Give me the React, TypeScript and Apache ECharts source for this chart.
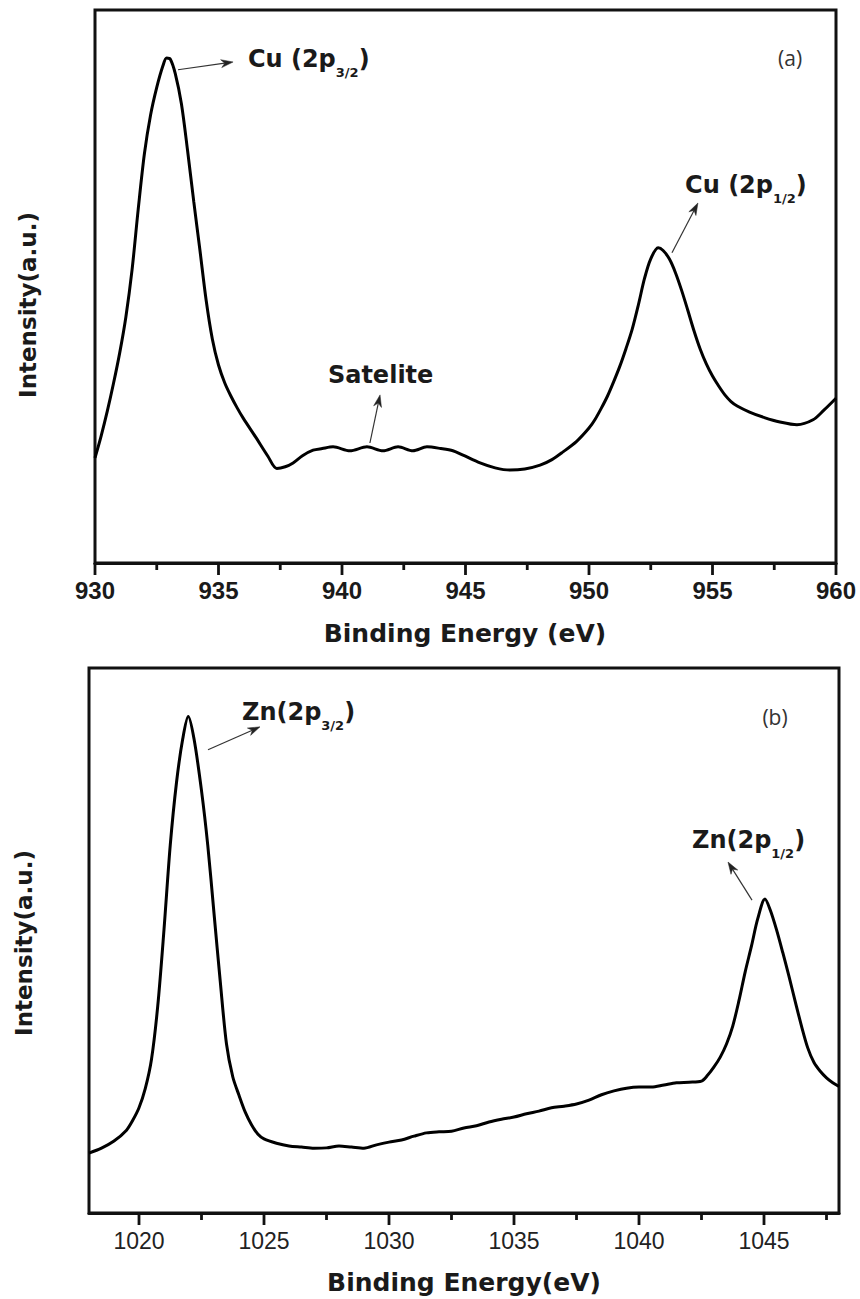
import React, { useEffect, useRef } from "react";
import * as echarts from "echarts";

// ---------- Panel (a): Cu 2p ----------
const cuEnergy = [
  930.0, 930.25, 930.5, 930.75, 931.0, 931.25, 931.5, 931.75, 932.0, 932.25, 932.5, 932.75, 932.9,
  933.05, 933.25, 933.5, 933.75, 934.0, 934.25, 934.5, 934.75, 935.0, 935.25, 935.5, 935.75, 936.0,
  936.5, 937.0, 937.36, 937.7, 938.02, 938.4, 938.83, 939.2, 939.64, 940.32, 941.01, 941.66, 942.27,
  942.87, 943.44, 944.0, 944.49, 944.9, 945.59, 946.2, 946.8, 947.4, 948.02, 948.5, 948.95, 949.5,
  950.0, 950.25, 950.5, 950.75, 951.0, 951.25, 951.5, 951.75, 952.0, 952.25, 952.5, 952.8,
  953.0, 953.25, 953.5, 953.75, 954.0, 954.25, 954.5, 954.75, 955.0, 955.25, 955.5, 955.75, 956.0,
  956.5, 957.1, 957.73, 958.42, 959.07, 959.5, 960.0,
];
const cuIntensity = [
  19.0, 23.0, 27.5, 32.5, 38.0, 44.5, 53.0, 64.0, 74.0, 81.0, 86.0, 89.9, 91.3,
  91.1, 88.5, 83.0, 74.5, 65.3, 56.5, 47.5, 40.5, 35.8, 32.6, 30.2, 28.1, 26.2,
  22.8, 19.3, 17.1, 17.4, 18.1, 19.4, 20.4, 20.7, 21.0, 20.3, 21.0, 20.3, 21.0,
  20.3, 21.0, 20.7, 20.3, 19.5, 18.1, 17.2, 16.8, 17.0, 17.7, 18.7, 20.1, 22.0,
  24.4, 26.0, 28.0, 30.2, 32.8, 35.6, 38.8, 42.3, 46.7, 51.5, 55.0, 57.0,
  56.5, 55.0, 52.5, 49.3, 45.7, 42.0, 38.7, 36.0, 33.8, 32.0, 30.4, 29.2, 28.4,
  27.3, 26.3, 25.5, 25.0, 25.9, 27.6, 29.8,
];

// ---------- Panel (b): Zn 2p ----------
const znEnergy = [
  1018, 1018.5, 1019, 1019.5, 1019.75, 1020, 1020.25, 1020.5, 1020.75, 1021, 1021.25, 1021.5,
  1021.75, 1021.97, 1022.2, 1022.5, 1022.75, 1023, 1023.25, 1023.5, 1023.75, 1024, 1024.25, 1024.5,
  1024.75, 1025, 1025.5, 1026, 1026.5, 1027, 1027.5, 1028, 1028.5, 1029, 1029.5, 1030, 1030.5,
  1031, 1031.5, 1032, 1032.5, 1033, 1033.5, 1034, 1034.5, 1035, 1035.5, 1036, 1036.5, 1037,
  1037.5, 1038, 1038.5, 1039, 1039.5, 1040, 1040.5, 1041, 1041.5, 1042, 1042.5, 1042.75, 1043,
  1043.25, 1043.5, 1043.75, 1044, 1044.25, 1044.5, 1044.75, 1045.04, 1045.25, 1045.5, 1045.75,
  1046, 1046.25, 1046.5, 1046.75, 1047, 1047.25, 1047.5, 1047.75, 1048,
];
const znIntensity = [
  11.0, 11.9, 13.2, 15.2, 17.0, 19.3, 22.8, 28.2, 38.0, 52.0, 67.5, 79.0,
  87.0, 91.1, 87.0, 77.5, 67.5, 55.0, 42.5, 31.0, 25.0, 21.6, 18.5, 16.2,
  14.5, 13.6, 12.8, 12.3, 12.1, 11.9, 11.95, 12.3, 12.1, 11.9, 12.5, 13.0, 13.4,
  14.1, 14.7, 14.9, 15.0, 15.6, 16.0, 16.7, 17.2, 17.6, 18.2, 18.7, 19.3, 19.6,
  20.0, 20.7, 21.7, 22.4, 22.9, 23.1, 23.1, 23.5, 23.9, 24.0, 24.2, 25.3, 26.8,
  28.6, 31.0, 34.3, 39.0, 44.3, 49.0, 54.0, 57.6, 55.6, 52.0, 47.8,
  43.4, 38.8, 34.3, 30.3, 27.6, 26.0, 24.8, 23.9, 23.2,
];

// ---------- Axis ticks ----------
const cuTickValues = [930, 935, 940, 945, 950, 955, 960];
const cuMinorTickValues = [932.5, 937.5, 942.5, 947.5, 952.5, 957.5];
const znTickValues = [1020, 1025, 1030, 1035, 1040, 1045];
const znMinorTickValues = [1022.5, 1027.5, 1032.5, 1037.5, 1042.5, 1047.5];

// ---------- Texts ----------
const xTitleA = "Binding Energy (eV)";
const xTitleB = "Binding Energy(eV)";
const yTitle = "Intensity(a.u.)";

// annotation anchors in data space (energy, intensity)
const cuLabels = [
  { main: "Cu (2p", sub: "3/2", e: 936.19, v: 93.3 },
  { main: "Cu (2p", sub: "1/2", e: 953.89, v: 70.5 },
  { main: "Satelite", sub: "", e: 939.43, v: 36.2 },
];
const znLabels = [
  { main: "Zn(2p", sub: "3/2", e: 1024.12, v: 94.1 },
  { main: "Zn(2p", sub: "1/2", e: 1042.12, v: 70.6 },
];
// arrows: [fromE, fromV, toE, toV]
const cuArrows = [
  [933.36, 89.2, 935.59, 90.6],
  [953.36, 56.1, 954.41, 65.1],
  [941.13, 21.7, 941.54, 30.4],
];
const znArrows = [
  [1022.76, 85.0, 1024.84, 89.2],
  [1044.52, 57.4, 1043.56, 64.4],
];
const panelTags = [
  { text: "(a)", e: 958.14, v: 91.3, grid: 0 },
  { text: "(b)", e: 1045.44, v: 91.0, grid: 1 },
];

const BOLD_FONT = "DejaVu Sans";
const ARIAL = "Liberation Sans, Arial, sans-serif";
const INK = "#111";

export default function App() {
  const ref = useRef<HTMLDivElement>(null);

  useEffect(() => {
    if (!ref.current) return;
    const chart = echarts.init(ref.current, undefined, { renderer: "svg" });

    const option: any = {
      animation: false,
      backgroundColor: "#fff",
      grid: [
        { left: 95, top: 10, width: 741, height: 553, show: true, borderColor: INK, borderWidth: 3, backgroundColor: "transparent" },
        { left: 89, top: 668, width: 750, height: 545, show: true, borderColor: INK, borderWidth: 3, backgroundColor: "transparent" },
      ],
      xAxis: [
        {
          gridIndex: 0,
          type: "value",
          min: 930,
          max: 960,
          interval: 5,
          axisLine: { show: true, onZero: false, lineStyle: { color: INK, width: 3 } },
          axisTick: { show: false },
          axisLabel: {
            show: true,
            showMinLabel: true,
            showMaxLabel: true,
            fontSize: 24,
            fontWeight: "bold",
            fontFamily: ARIAL,
            color: "#1a1a1a",
            margin: 15,
            formatter: (v: number) => String(v),
          },
          splitLine: { show: false },
        },
        {
          gridIndex: 1,
          type: "value",
          min: 1018,
          max: 1048,
          axisLine: { show: true, onZero: false, lineStyle: { color: INK, width: 3 } },
          axisTick: { show: false },
          axisLabel: {
            show: true,
            customValues: znTickValues,
            fontSize: 23,
            fontFamily: ARIAL,
            color: "#222",
            margin: 16,
            formatter: (v: number) => String(v),
          },
          splitLine: { show: false },
        },
      ],
      yAxis: [
        { gridIndex: 0, type: "value", min: 0, max: 100, show: false, splitLine: { show: false } },
        { gridIndex: 1, type: "value", min: 0, max: 100, show: false, splitLine: { show: false } },
      ],
      series: [
        {
          type: "line",
          xAxisIndex: 0,
          yAxisIndex: 0,
          data: cuEnergy.map((e, i) => [e, cuIntensity[i]]),
          smooth: 0.3,
          showSymbol: false,
          symbol: "none",
          silent: true,
          lineStyle: { color: "#000", width: 3 },
        },
        {
          type: "line",
          xAxisIndex: 1,
          yAxisIndex: 1,
          data: znEnergy.map((e, i) => [e, znIntensity[i]]),
          smooth: 0.3,
          showSymbol: false,
          symbol: "none",
          silent: true,
          lineStyle: { color: "#000", width: 3 },
        },
      ],
    };

    chart.setOption(option);

    const rich = {
      m: { fontSize: 24, fontWeight: "bold", fontFamily: BOLD_FONT, fill: "#1a1a1a", lineHeight: 28, verticalAlign: "top" },
      s: { fontSize: 13, fontWeight: "bold", fontFamily: BOLD_FONT, fill: "#1a1a1a", lineHeight: 14, verticalAlign: "top", padding: [19, 0, 0, 0] },
    };

    const toPx = (g: number, e: number, v: number) =>
      chart.convertToPixel({ xAxisIndex: g, yAxisIndex: g } as any, [e, v]) as number[];

    const graphics: any[] = [];

    // outward tick marks, positioned through the axis scale
    const addTicks = (values: number[], g: number, len: number) => {
      values.forEach((val) => {
        const p = toPx(g, val, 0);
        graphics.push({
          type: "rect",
          silent: true,
          z: 10,
          shape: { x: p[0] - 1.4, y: p[1], width: 2.8, height: len },
          style: { fill: INK },
        });
      });
    };
    addTicks(cuTickValues, 0, 12);
    addTicks(cuMinorTickValues, 0, 7);
    addTicks(znTickValues, 1, 12);
    addTicks(znMinorTickValues, 1, 7);

    const addLabel = (l: { main: string; sub: string; e: number; v: number }, g: number) => {
      const p = toPx(g, l.e, l.v);
      const text = l.sub ? `{m|${l.main}}{s|${l.sub}}{m|)}` : `{m|${l.main}}`;
      graphics.push({
        type: "text",
        x: p[0],
        y: p[1],
        silent: true,
        style: { text, rich, align: "left", verticalAlign: "top", textAlign: "left", textVerticalAlign: "top" },
      });
    };
    cuLabels.forEach((l) => addLabel(l, 0));
    znLabels.forEach((l) => addLabel(l, 1));

    const addArrow = (a: number[], g: number) => {
      const p1 = toPx(g, a[0], a[1]);
      const p2 = toPx(g, a[2], a[3]);
      const dx = p2[0] - p1[0];
      const dy = p2[1] - p1[1];
      const d = Math.sqrt(dx * dx + dy * dy) || 1;
      const ux = dx / d;
      const uy = dy / d;
      const nx = -uy;
      const ny = ux;
      const L = 12;
      const W = 4;
      const bx = p2[0] - ux * L;
      const by = p2[1] - uy * L;
      const notchX = p2[0] - ux * L * 0.7;
      const notchY = p2[1] - uy * L * 0.7;
      graphics.push({
        type: "line",
        silent: true,
        shape: { x1: p1[0], y1: p1[1], x2: notchX, y2: notchY },
        style: { stroke: "#333", lineWidth: 1.2 },
      });
      graphics.push({
        type: "polygon",
        silent: true,
        shape: {
          points: [
            [p2[0], p2[1]],
            [bx + nx * W, by + ny * W],
            [notchX, notchY],
            [bx - nx * W, by - ny * W],
          ],
        },
        style: { fill: "#222", stroke: "#222", lineWidth: 0.5 },
      });
    };
    cuArrows.forEach((a) => addArrow(a, 0));
    znArrows.forEach((a) => addArrow(a, 1));

    panelTags.forEach((t) => {
      const p = toPx(t.grid, t.e, t.v);
      graphics.push({
        type: "text",
        x: p[0],
        y: p[1],
        silent: true,
        style: {
          text: t.text,
          fontSize: 21,
          fontFamily: "Open Sans, sans-serif",
          fill: "#333",
          align: "center",
          verticalAlign: "middle",
          textAlign: "center",
          textVerticalAlign: "middle",
        },
      });
    });

    const titleStyle = (text: string) => ({
      text,
      fontSize: 25,
      fontWeight: "bold",
      fontFamily: BOLD_FONT,
      fill: "#1a1a1a",
      align: "center",
      verticalAlign: "middle",
      textAlign: "center",
      textVerticalAlign: "middle",
    });
    graphics.push({ type: "text", x: 465, y: 633, silent: true, style: titleStyle(xTitleA) });
    graphics.push({ type: "text", x: 464, y: 1282, silent: true, style: titleStyle(xTitleB) });
    graphics.push({ type: "text", x: 28, y: 305, rotation: Math.PI / 2, silent: true, style: { ...titleStyle(yTitle), fontSize: 23 } });
    graphics.push({ type: "text", x: 24, y: 943, rotation: Math.PI / 2, silent: true, style: { ...titleStyle(yTitle), fontSize: 23 } });

    chart.setOption({ graphic: graphics });

    return () => {
      chart.dispose();
    };
  }, []);

  return (
    <div
      ref={ref}
      style={{ position: "absolute", left: 0, top: 0, width: 860, height: 1299, background: "#fff" }}
    />
  );
}
